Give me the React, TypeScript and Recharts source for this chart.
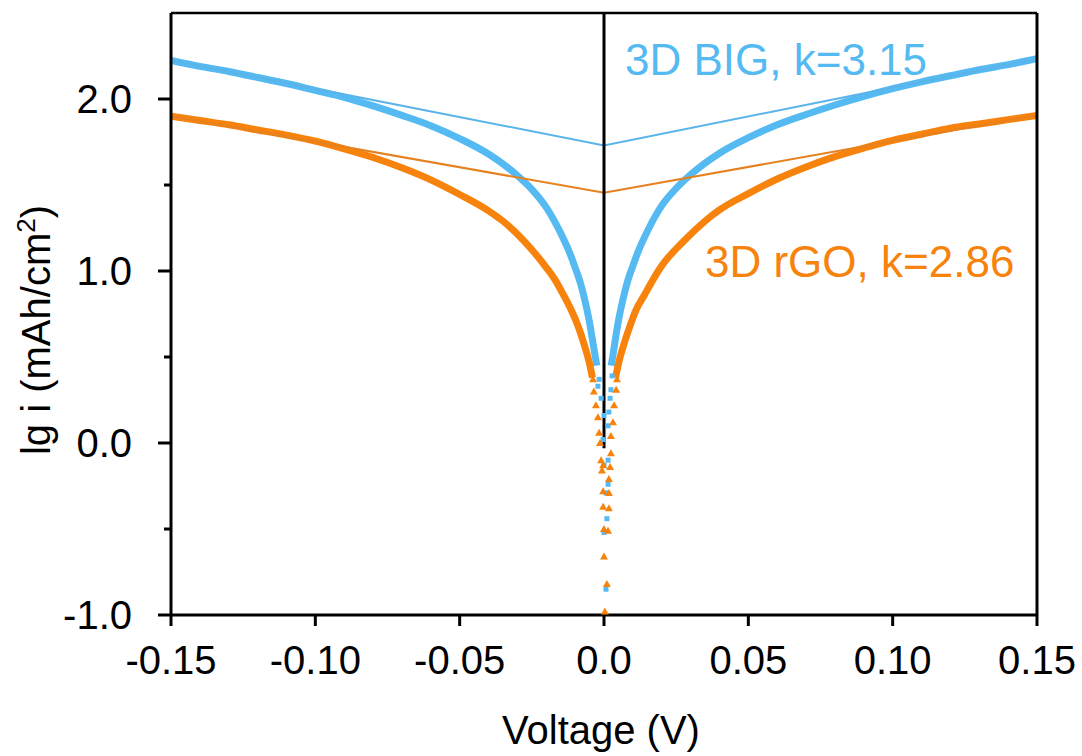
import { ComposedChart, XAxis, YAxis, Line, Scatter, ReferenceLine } from 'recharts';

const xTicks = [-0.15, -0.1, -0.05, 0, 0.05, 0.1, 0.15];
const xTickLabels = ['-0.15', '-0.10', '-0.05', '0.0', '0.05', '0.10', '0.15'];
const yTicks = [-1, -0.5, 0, 0.5, 1, 1.5, 2];
const yTickLabels = ['-1.0', '', '0.0', '', '1.0', '', '2.0'];

// [voltage, lg i]
const bigLeft = [
    [-0.15, 2.225], [-0.14, 2.19], [-0.13, 2.16], [-0.12, 2.125], [-0.11, 2.09], [-0.1, 2.05],
    [-0.09, 2.01], [-0.08, 1.96], [-0.07, 1.905], [-0.06, 1.845], [-0.05, 1.77], [-0.04, 1.68],
    [-0.03, 1.555], [-0.025, 1.475], [-0.02, 1.37], [-0.015, 1.22], [-0.012, 1.11], [-0.01, 1.02],
    [-0.008, 0.92], [-0.0065, 0.82], [-0.005, 0.7], [-0.004, 0.6], [-0.0025, 0.45]
];
const bigRight = [
    [0.0025, 0.45], [0.003, 0.5], [0.004, 0.61], [0.005, 0.71], [0.0065, 0.83], [0.008, 0.93],
    [0.01, 1.03], [0.012, 1.12], [0.015, 1.23], [0.02, 1.38], [0.025, 1.48], [0.03, 1.56],
    [0.04, 1.685], [0.05, 1.775], [0.06, 1.85], [0.07, 1.91], [0.08, 1.965], [0.09, 2.015],
    [0.1, 2.06], [0.11, 2.1], [0.12, 2.135], [0.13, 2.17], [0.14, 2.2], [0.15, 2.235]
];
const rgoLeft = [
    [-0.15, 1.9], [-0.14, 1.875], [-0.13, 1.85], [-0.12, 1.82], [-0.11, 1.79], [-0.1, 1.755],
    [-0.09, 1.71], [-0.08, 1.66], [-0.07, 1.6], [-0.06, 1.53], [-0.05, 1.445], [-0.04, 1.35],
    [-0.035, 1.29], [-0.028, 1.18], [-0.02, 1.02], [-0.017, 0.95], [-0.014, 0.86], [-0.011, 0.76],
    [-0.009, 0.68], [-0.007, 0.58], [-0.005, 0.46], [-0.004, 0.38]
];
const rgoRight = [
    [0.004, 0.38], [0.005, 0.46], [0.007, 0.58], [0.009, 0.68], [0.011, 0.77], [0.014, 0.86],
    [0.017, 0.95], [0.02, 1.03], [0.028, 1.18], [0.035, 1.29], [0.04, 1.355], [0.05, 1.45],
    [0.06, 1.535], [0.07, 1.605], [0.08, 1.665], [0.09, 1.715], [0.1, 1.76], [0.11, 1.795],
    [0.12, 1.83], [0.13, 1.855], [0.14, 1.88], [0.15, 1.905]
];
const bigDots = [
    [-0.0017, 0.37], [0.0028, 0.39], [-0.0021, 0.33], [0.0024, 0.31], [-0.001, 0.26], [0.0021, 0.26],
    [0.0017, 0.18], [0, 0.16], [0.0014, 0.1], [-0.0003, 0.02], [0.0014, -0.1], [0, -0.13],
    [0.0014, -0.24], [0.0007, -0.29], [0.001, -0.44], [0, -0.52], [0.0007, -0.85]
];
const rgoDots = [
    [-0.0038, 0.37], [0.0045, 0.37], [-0.0035, 0.3], [0.0042, 0.31], [-0.0028, 0.22], [0.0035, 0.22],
    [-0.0021, 0.15], [0.0031, 0.12], [-0.0017, 0.06], [0.0024, 0.04], [-0.0014, 0], [0.0024, -0.06],
    [-0.001, -0.1], [-0.0003, -0.13], [-0.0007, -0.16], [0.0021, -0.14], [0.0017, -0.21], [-0.0003, -0.28],
    [0.0017, -0.29], [-0.0003, -0.37], [0.0017, -0.38], [0, -0.5], [0.0014, -0.51], [0, -0.66],
    [0.001, -0.82], [0.0003, -0.98]
];
// linear fits through the far branches
const bigFit = [[-0.15, 2.225], [0, 1.73], [0.15, 2.235]];
const rgoFit = [[-0.15, 1.9], [0, 1.455], [0.15, 1.905]];

const BLUE = '#56baf2';
const ORANGE = '#f7820c';

const pts = (a: number[][]) => a.map(([v, lg]) => ({ v, lg }));

const XTick = ({ x, y, index }: any) => (
    <g>
        <line x1={x} y1={y} x2={x} y2={y + 11} stroke="#000" strokeWidth={3} />
        <text x={x} y={y + 59} textAnchor="middle" fontSize={40} fill="#000">{xTickLabels[index]}</text>
    </g>
);

const YTick = ({ x, y, index }: any) => {
    const label = yTickLabels[index];
    return (
        <g>
            <line x1={x - (label ? 13 : 7)} y1={y} x2={x} y2={y} stroke="#000" strokeWidth={3} />
            {label && <text x={x - 39} y={y + 14} textAnchor="end" fontSize={40} fill="#000">{label}</text>}
        </g>
    );
};

const Square = ({ cx, cy }: any) => <rect x={cx - 2.5} y={cy - 2.5} width={5} height={5} fill={BLUE} />;
const Tri = ({ cx, cy }: any) => <path d={`M${cx},${cy - 4} L${cx + 4},${cy + 3} L${cx - 4},${cy + 3} Z`} fill={ORANGE} />;

const App = () => {
    return (
        <div style={{ position: 'absolute', left: 0, top: 0, width: 1082, height: 756, fontFamily: '"Liberation Sans", Arial, sans-serif' }}>
            <ComposedChart width={1082} height={756} margin={{ top: 13, right: 45, bottom: 0, left: 0 }}>
                <XAxis dataKey="v" type="number" domain={[-0.15, 0.15]} ticks={xTicks} allowDataOverflow
                    height={141} tickSize={0} tickMargin={0} tick={<XTick />} axisLine={{ stroke: '#000', strokeWidth: 3 }} tickLine={false} />
                <YAxis dataKey="lg" type="number" domain={[-1, 2.5]} ticks={yTicks} allowDataOverflow
                    width={171} tickSize={0} tickMargin={0} tick={<YTick />} axisLine={{ stroke: '#000', strokeWidth: 3 }} tickLine={false} />
                <Line data={pts(bigLeft)} dataKey="lg" type="monotone" stroke={BLUE} strokeWidth={7} dot={false} isAnimationActive={false} />
                <Line data={pts(bigRight)} dataKey="lg" type="monotone" stroke={BLUE} strokeWidth={7} dot={false} isAnimationActive={false} />
                <Line data={pts(rgoLeft)} dataKey="lg" type="monotone" stroke={ORANGE} strokeWidth={7} dot={false} isAnimationActive={false} />
                <Line data={pts(rgoRight)} dataKey="lg" type="monotone" stroke={ORANGE} strokeWidth={7} dot={false} isAnimationActive={false} />
                <Line data={pts(bigFit)} dataKey="lg" type="linear" stroke="#5ab4e8" strokeWidth={2} dot={false} isAnimationActive={false} />
                <Line data={pts(rgoFit)} dataKey="lg" type="linear" stroke="#e5821f" strokeWidth={2} dot={false} isAnimationActive={false} />
                <Scatter data={pts(bigDots)} dataKey="lg" shape={<Square />} isAnimationActive={false} />
                <Scatter data={pts(rgoDots)} dataKey="lg" shape={<Tri />} isAnimationActive={false} />
                <ReferenceLine y={2.5} stroke="#000" strokeWidth={2.5} />
                <ReferenceLine x={0.15} stroke="#000" strokeWidth={3} />
                <ReferenceLine segment={[{ x: 0, y: -0.03 }, { x: 0, y: 2.5 }]} stroke="#000" strokeWidth={3} />
            </ComposedChart>
            <svg width={1082} height={756} style={{ position: 'absolute', left: 0, top: 0, pointerEvents: 'none' }}>
                <text x={601} y={744} textAnchor="middle" fontSize={40} fill="#000">Voltage (V)</text>
                <text transform="rotate(-90)" x={-330} y={50} textAnchor="middle" fontSize={40} fill="#000">
                    lg i (mAh/cm<tspan fontSize={26} dy={-15}>2</tspan><tspan dy={15}>)</tspan>
                </text>
                <text x={625} y={75} fontSize={44} fill={BLUE}>3D BIG, k=3.15</text>
                <text x={705} y={277} fontSize={44} fill={ORANGE}>3D rGO, k=2.86</text>
            </svg>
        </div>
    );
};

export default App;
